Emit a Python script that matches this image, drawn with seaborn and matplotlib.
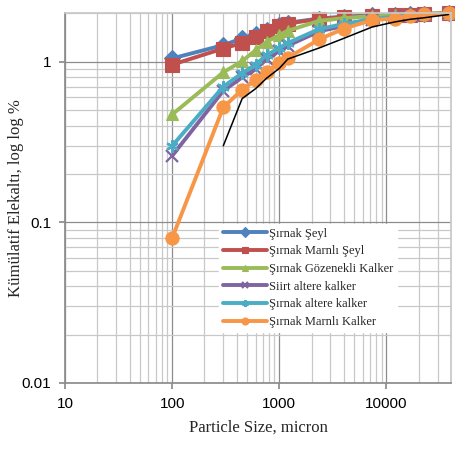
import numpy as np
import pandas as pd
import matplotlib
matplotlib.use("Agg")
import matplotlib.pyplot as plt
import seaborn as sns

# particle sizes (micron)
sizes = [100, 300, 450, 600, 760, 1000, 1200, 2360, 4000, 7400, 11900, 16700, 22400, 38000]

# cumulative passing, log log %
sirnak_seyl = [1.05, 1.27, 1.40, 1.49, 1.58, 1.69, 1.75, 1.86, 1.91, 1.95, 1.97, 1.98, 1.99, 2.0]
sirnak_marnli_seyl = [0.96, 1.21, 1.31, 1.43, 1.56, 1.67, 1.73, 1.85, 1.90, 1.93, 1.96, 1.97, 1.99, 2.0]
sirnak_gozenekli = [0.47, 0.86, 1.01, 1.18, 1.33, 1.47, 1.56, 1.80, 1.87, 1.93, 1.96, 1.98, 1.99, 2.0]
siirt_altere = [0.26, 0.66, 0.80, 0.90, 1.04, 1.17, 1.26, 1.55, 1.67, 1.82, 1.89, 1.94, 1.97, 2.0]
sirnak_altere = [0.30, 0.70, 0.85, 0.96, 1.10, 1.22, 1.31, 1.60, 1.72, 1.85, 1.91, 1.95, 1.97, 2.0]
sirnak_marnli_kalker = [0.08, 0.52, 0.67, 0.77, 0.87, 0.99, 1.06, 1.38, 1.61, 1.82, 1.86, 1.94, 1.98, 2.0]

# thin black reference curve (no markers)
ref_sizes = [300, 450, 600, 760, 1000, 1200, 2360, 4000, 7400, 11900, 16700, 22400, 38000]
ref_values = [0.30, 0.59, 0.68, 0.79, 0.91, 1.04, 1.22, 1.40, 1.65, 1.77, 1.84, 1.88, 1.97]

labels = ["Şırnak Şeyl", "Şırnak Marnlı Şeyl", "Şırnak Gözenekli Kalker",
          "Siirt altere kalker", "Şırnak altere kalker", "Şırnak Marnlı Kalker"]
series = [sirnak_seyl, sirnak_marnli_seyl, sirnak_gozenekli,
          siirt_altere, sirnak_altere, sirnak_marnli_kalker]
colors = ["#4F81BD", "#C0504D", "#9BBB59", "#8064A2", "#4BACC6", "#F79646"]
markers = ["D", "s", "^", "x", (6, 2, 0), "o"]
msizes = [8, 9.5, 9, 8, 9, 9.5]

sns.set_theme(style="white")
plt.rcParams["font.family"] = ["Liberation Sans", "DejaVu Sans"]

fig = plt.figure(figsize=(4.55, 4.49), dpi=100)
ax = fig.add_axes([0.143, 0.147, 0.848, 0.823])

for lab, vals, c, m, ms in zip(labels, series, colors, markers, msizes):
    df = pd.DataFrame({"size": sizes, "value": vals})
    filled = m not in ("x", (6, 2, 0))
    sns.lineplot(data=df, x="size", y="value", ax=ax, color=c, lw=2.8,
                 marker=m, markersize=ms, markeredgecolor=c,
                 markeredgewidth=0.8 if filled else 1.6,
                 label=lab, sort=False, estimator=None, clip_on=False)

ref = pd.DataFrame({"size": ref_sizes, "value": ref_values})
sns.lineplot(data=ref, x="size", y="value", ax=ax, color="black", lw=1.1,
             sort=False, estimator=None, clip_on=False)

ax.set_xscale("log")
ax.set_yscale("log")
ax.set_xlim(10, 40000)
ax.set_ylim(0.01, 2)

ax.set_xticks([10, 100, 1000, 10000])
ax.set_xticklabels(["10", "100", "1000", "10000"])
ax.set_yticks([0.01, 0.1, 1])
ax.set_yticklabels(["0.01", "0.1", "1"])

ax.grid(which="major", color="#8C8C8C", lw=0.9)
ax.grid(which="minor", color="#C8C8C8", lw=0.9)
ax.set_axisbelow(True)
ax.tick_params(which="major", length=4, color="#8C8C8C", labelsize=11,
               colors="black", pad=6)
ax.tick_params(which="minor", length=0)
for s in ["left", "bottom"]:
    ax.spines[s].set_color("#8C8C8C")
for s in ["top", "right"]:
    ax.spines[s].set_color("#C8C8C8")
ax.tick_params(axis="x", direction="out", bottom=True)
ax.tick_params(axis="y", direction="out", left=True)

ax.set_xlabel("Particle Size, micron", family=["Liberation Serif"], fontsize=12, labelpad=6)
ax.set_ylabel("Kümülatif Elekaltı, log log %", family=["Liberation Serif"], fontsize=12, labelpad=-2)

leg = ax.legend(loc="upper left", bbox_to_anchor=(0.40, 0.43), frameon=True,
                fancybox=False, edgecolor="white", framealpha=1,
                prop={"family": "Liberation Serif", "size": 9},
                handlelength=3.5, labelspacing=0.45, handletextpad=0.15,
                borderpad=0.3, borderaxespad=0)
leg.set_zorder(5)
for h in leg.legend_handles:
    h.set_markersize(5)

fig.savefig("out.png", dpi=100)
